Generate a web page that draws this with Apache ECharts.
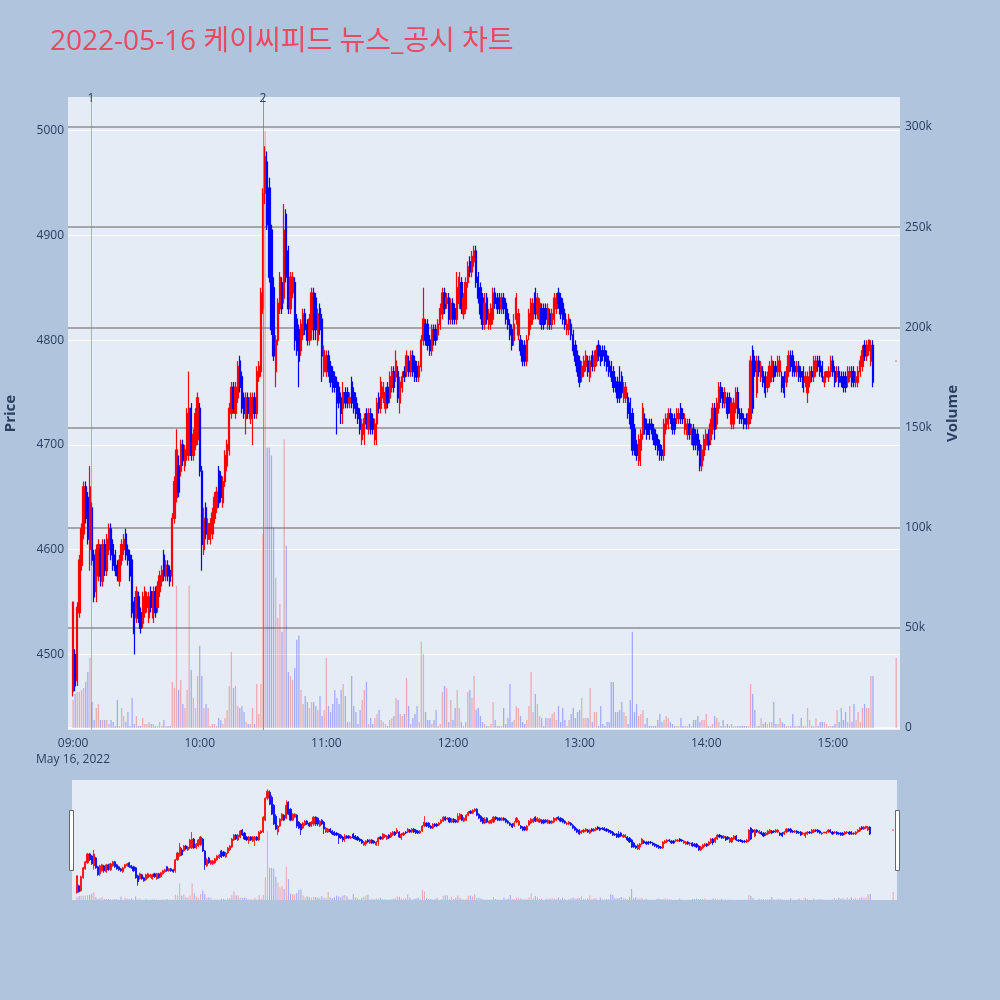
<!DOCTYPE html>
<html><head><meta charset="utf-8">
<script src="https://cdn.jsdelivr.net/npm/echarts@6/dist/echarts.min.js"></script>
<style>html,body{margin:0;padding:0;background:#B0C4DE;}#c{width:1000px;height:1000px;}</style>
</head><body><div id="c"></div>
<script>
// ---- data ----
const chartTitle = '2022-05-16 케이씨피드 뉴스_공시 차트';
const tickMinutes = [0, 60, 120, 180, 240, 300, 360];
const tickLabels = ['09:00', '10:00', '11:00', '12:00', '13:00', '14:00', '15:00'];
const dateLabel = 'May 16, 2022';
const priceTicks = [4500, 4600, 4700, 4800, 4900, 5000];
const volumeTicks = [0, 50, 100, 150, 200, 250, 300]; // thousands
const newsMarks = [{ label: '', minute: 90.15 }, { label: '1', minute: 8.5 }, { label: '2', minute: 90.0 }];
// minutes after 09:00 for each candle: 09:00..15:19 and the 15:30 closing auction
const minutes = [];
for (let m = 0; m < 380; m++) minutes.push(m);
minutes.push(390);
// [open, close, low, high]
const candles = [
[4465,4550,4460,4550],[4500,4470,4465,4505],[4475,4545,4470,4550],[4540,4590,4535,4595],[4585,4620,4580,4625],[4615,4660,4610,4665],[4660,4630,4625,4665],[4650,4610,4605,4655],[4600,4660,4580,4680],[4640,4590,4585,4645],[4595,4555,4550,4600],
[4560,4600,4550,4605],[4575,4605,4570,4610],[4600,4575,4565,4605],[4570,4605,4565,4610],[4605,4580,4575,4610],[4580,4610,4575,4615],[4600,4620,4595,4625],[4620,4595,4590,4625],[4605,4585,4580,4610],[4595,4580,4575,4600],
[4585,4575,4570,4590],[4570,4590,4565,4595],[4590,4605,4585,4610],[4600,4610,4595,4615],[4615,4595,4590,4620],[4600,4590,4585,4605],[4595,4575,4570,4600],[4590,4540,4535,4595],[4550,4520,4500,4555],[4535,4560,4530,4565],
[4555,4535,4530,4560],[4540,4525,4520,4545],[4530,4555,4525,4560],[4540,4560,4535,4565],[4545,4555,4540,4560],[4535,4555,4530,4560],[4560,4545,4540,4565],[4535,4560,4530,4565],[4560,4540,4535,4565],[4545,4565,4540,4570],
[4560,4575,4555,4580],[4570,4580,4565,4585],[4595,4575,4570,4600],[4575,4585,4570,4590],[4585,4575,4570,4590],[4580,4570,4565,4585],[4575,4630,4565,4635],[4630,4665,4625,4670],[4650,4695,4645,4715],[4680,4655,4650,4690],
[4675,4700,4670,4705],[4700,4685,4680,4705],[4680,4695,4675,4700],[4690,4730,4685,4735],[4690,4735,4685,4770],[4735,4690,4685,4740],[4690,4710,4685,4715],[4700,4730,4695,4735],[4705,4745,4700,4750],[4735,4675,4670,4740],
[4675,4605,4580,4680],[4600,4630,4595,4640],[4640,4615,4610,4645],[4610,4625,4605,4630],[4610,4625,4605,4630],[4615,4635,4610,4640],[4630,4650,4625,4655],[4640,4655,4635,4660],[4675,4645,4640,4680],[4670,4650,4645,4675],
[4645,4665,4640,4670],[4665,4690,4660,4695],[4680,4700,4675,4705],[4695,4735,4690,4740],[4730,4755,4725,4760],[4755,4735,4730,4760],[4730,4755,4725,4760],[4745,4775,4740,4780],[4780,4755,4750,4785],[4765,4735,4730,4770],
[4745,4730,4725,4750],[4725,4745,4710,4750],[4745,4730,4725,4750],[4725,4745,4720,4750],[4730,4745,4700,4750],[4745,4730,4725,4750],[4730,4770,4725,4775],[4765,4775,4760,4780],[4770,4845,4765,4850],[4830,4940,4825,4945],
[4940,4975,4930,4985],[4970,4910,4905,4980],[4945,4860,4855,4955],[4905,4810,4805,4910],[4850,4785,4780,4860],[4770,4800,4755,4805],[4800,4835,4795,4840],[4830,4860,4825,4865],[4855,4830,4825,4860],[4840,4905,4835,4930],
[4920,4860,4855,4925],[4885,4830,4825,4890],[4830,4860,4825,4865],[4845,4860,4840,4865],[4855,4800,4790,4860],[4820,4790,4785,4825],[4810,4780,4755,4815],[4790,4815,4785,4820],[4805,4825,4800,4830],[4825,4810,4805,4830],
[4815,4800,4795,4820],[4800,4820,4795,4825],[4810,4845,4800,4850],[4845,4810,4800,4850],[4840,4810,4800,4845],[4800,4825,4795,4830],[4830,4810,4805,4835],[4820,4785,4760,4825],[4770,4790,4765,4795],[4770,4785,4765,4790],
[4785,4770,4765,4790],[4775,4760,4755,4780],[4770,4755,4750,4775],[4765,4755,4750,4770],[4760,4740,4710,4765],[4755,4740,4735,4760],[4745,4730,4720,4750],[4735,4750,4720,4760],[4750,4740,4735,4755],[4750,4740,4735,4755],
[4740,4745,4735,4750],[4760,4740,4735,4765],[4750,4735,4730,4755],[4745,4730,4725,4750],[4735,4725,4720,4740],[4730,4715,4710,4735],[4705,4720,4700,4725],[4710,4725,4700,4730],[4730,4720,4715,4735],[4715,4730,4710,4735],
[4730,4715,4710,4735],[4725,4715,4710,4730],[4705,4720,4700,4725],[4720,4740,4700,4745],[4745,4735,4730,4750],[4735,4760,4730,4765],[4745,4755,4740,4760],[4735,4750,4730,4755],[4755,4740,4735,4760],[4745,4765,4740,4770],
[4755,4770,4750,4775],[4770,4755,4750,4775],[4765,4780,4760,4790],[4770,4745,4740,4775],[4740,4760,4730,4765],[4755,4765,4750,4770],[4770,4765,4760,4775],[4770,4785,4765,4790],[4780,4770,4765,4785],[4770,4785,4765,4790],
[4785,4770,4765,4790],[4780,4765,4760,4785],[4775,4765,4760,4780],[4765,4775,4760,4780],[4775,4800,4770,4805],[4800,4820,4795,4850],[4815,4800,4795,4820],[4815,4795,4790,4820],[4800,4790,4785,4805],[4790,4810,4785,4815],
[4810,4800,4795,4815],[4810,4800,4795,4815],[4805,4815,4800,4820],[4815,4830,4810,4835],[4825,4845,4820,4850],[4845,4830,4825,4850],[4835,4840,4830,4845],[4840,4820,4815,4845],[4820,4835,4815,4840],[4835,4820,4815,4840],
[4830,4820,4815,4835],[4820,4850,4815,4865],[4835,4860,4830,4865],[4855,4830,4825,4860],[4825,4840,4820,4845],[4830,4855,4825,4860],[4855,4870,4850,4875],[4875,4865,4860,4880],[4865,4880,4860,4885],[4875,4885,4870,4890],
[4885,4855,4850,4890],[4860,4840,4835,4865],[4850,4825,4820,4855],[4840,4815,4810,4845],[4815,4835,4810,4845],[4840,4820,4815,4845],[4815,4825,4810,4830],[4815,4830,4810,4835],[4820,4845,4815,4850],
[4845,4835,4830,4850],[4840,4830,4825,4845],[4840,4830,4825,4845],[4830,4840,4825,4845],[4840,4830,4825,4845],[4835,4820,4815,4840],[4825,4815,4810,4830],[4815,4805,4800,4820],[4810,4795,4790,4815],[4800,4815,4795,4825],
[4820,4840,4815,4845],[4805,4825,4800,4830],[4800,4790,4785,4805],[4795,4780,4775,4800],[4795,4780,4775,4800],[4780,4800,4775,4805],[4805,4825,4800,4830],[4815,4835,4810,4840],[4820,4835,4815,4840],[4845,4825,4820,4850],
[4825,4840,4820,4845],[4820,4835,4815,4840],[4830,4815,4810,4835],[4830,4815,4810,4835],[4830,4820,4815,4835],[4815,4830,4810,4835],[4825,4815,4810,4830],[4815,4825,4810,4830],[4820,4840,4815,4845],[4830,4840,4825,4845],
[4845,4835,4830,4850],[4840,4825,4820,4845],[4835,4820,4815,4840],[4825,4815,4810,4830],[4810,4815,4805,4820],[4810,4820,4805,4825],[4815,4805,4800,4820],[4805,4790,4785,4810],[4795,4780,4775,4800],[4785,4770,4765,4790],
[4780,4760,4755,4785],[4765,4775,4760,4780],[4770,4780,4765,4785],[4775,4785,4770,4790],[4780,4770,4765,4785],[4765,4780,4760,4785],[4785,4775,4770,4790],[4775,4785,4770,4790],[4780,4790,4775,4795],[4795,4785,4780,4800],
[4790,4780,4775,4795],[4790,4785,4780,4795],[4790,4780,4775,4795],[4785,4775,4770,4790],[4780,4770,4765,4785],[4775,4765,4760,4780],[4770,4755,4750,4775],[4760,4755,4750,4765],[4760,4745,4740,4765],[4760,4745,4740,4775],
[4765,4750,4745,4770],[4745,4755,4740,4760],[4745,4755,4740,4760],[4745,4730,4725,4750],[4740,4720,4715,4745],[4730,4695,4690,4735],[4715,4695,4690,4720],[4700,4690,4685,4705],[4685,4705,4680,4710],[4695,4710,4680,4715],
[4710,4735,4705,4740],[4725,4715,4710,4730],[4720,4710,4705,4725],[4720,4710,4705,4725],[4720,4715,4710,4725],[4715,4705,4700,4720],[4710,4700,4695,4715],[4705,4695,4690,4710],[4700,4690,4685,4705],[4695,4690,4685,4700],
[4690,4720,4685,4725],[4715,4725,4710,4730],[4720,4730,4715,4735],[4730,4725,4720,4735],[4725,4715,4710,4730],[4725,4715,4710,4730],[4725,4730,4720,4735],[4725,4730,4720,4735],[4735,4725,4720,4740],[4730,4725,4720,4735],
[4715,4725,4710,4730],[4710,4720,4705,4725],[4720,4710,4705,4725],[4710,4715,4700,4720],[4715,4700,4695,4720],[4710,4700,4695,4715],[4710,4695,4690,4715],[4700,4680,4675,4705],[4680,4695,4675,4700],[4690,4705,4685,4710],
[4700,4710,4695,4715],[4710,4700,4695,4715],[4705,4720,4700,4725],[4715,4735,4710,4740],[4735,4715,4705,4740],[4720,4740,4715,4745],[4735,4755,4730,4760],[4755,4745,4740,4760],[4750,4740,4735,4755],[4740,4750,4735,4755],
[4745,4730,4725,4750],[4745,4735,4730,4750],[4720,4740,4715,4745],[4720,4740,4715,4745],[4735,4750,4730,4755],[4750,4730,4725,4755],[4730,4725,4720,4735],[4730,4725,4720,4735],[4725,4720,4715,4730],[4725,4720,4715,4730],
[4720,4730,4715,4735],[4725,4780,4720,4785],[4790,4735,4730,4795],[4780,4770,4765,4785],[4750,4780,4745,4785],[4780,4770,4765,4785],[4765,4775,4760,4780],[4770,4760,4755,4775],[4765,4750,4745,4770],[4755,4765,4750,4770],
[4760,4775,4755,4780],[4765,4780,4760,4785],[4775,4765,4760,4780],[4775,4770,4765,4780],[4770,4780,4765,4785],[4770,4780,4765,4785],[4765,4755,4750,4770],[4765,4750,4745,4770],[4760,4770,4755,4775],[4770,4785,4765,4790],
[4785,4775,4770,4790],[4785,4770,4765,4790],[4775,4770,4765,4780],[4770,4775,4765,4780],[4775,4765,4760,4780],[4770,4765,4760,4775],[4770,4755,4750,4775],[4760,4765,4755,4770],[4750,4765,4740,4770],[4760,4770,4755,4775],
[4770,4765,4760,4775],[4765,4780,4760,4785],[4770,4780,4765,4785],[4780,4775,4770,4785],[4780,4770,4765,4785],[4775,4765,4760,4780],[4760,4765,4755,4770],[4765,4770,4765,4770],[4765,4770,4760,4775],[4770,4780,4765,4785],
[4780,4770,4765,4785],[4770,4760,4755,4775],[4765,4770,4760,4775],[4770,4760,4755,4775],[4765,4760,4755,4770],[4765,4755,4750,4770],[4765,4755,4750,4770],[4760,4770,4755,4775],[4765,4770,4760,4775],[4770,4760,4755,4775],
[4770,4760,4755,4775],[4760,4765,4755,4770],[4760,4770,4755,4775],[4770,4780,4765,4785],[4775,4790,4770,4795],[4795,4785,4780,4800],[4785,4795,4780,4800],[4790,4800,4785,4800],[4780,4795,4775,4800],[4795,4760,4755,4800],
[4780,4780,4780,4780]
];
// traded volume, thousands of shares
const volumes = [
14,17,18,18,19,20,23,28,35,13,4, 10,12,4,4,4,4,2,4,3,1, 14,1,10,6,3,8,1,15,2,6, 1,1,5,2,2,3,2,2,1,1,
3,1,4,1,1,1,23,20,71,19, 24,12,10,19,71,29,15,10,26,41, 26,10,12,10,1,2,2,1,5,4, 2,5,9,21,38,20,21,11,10,11,
8,3,2,2,10,2,22,7,22,97, 298,140,140,136,100,75,55,62,48,144, 91,28,26,24,30,44,46,19,12,16, 13,10,13,13,11,9,16,6,9,35,
11,8,12,19,15,12,19,22,16,3, 3,26,11,8,2,9,14,19,23,2, 5,2,5,7,9,4,3,2,1,4, 5,6,15,14,7,6,7,25,11,2,
5,7,11,3,43,37,8,4,4,2, 4,9,1,2,18,21,20,3,14,4, 10,19,10,3,1,3,18,19,15,26, 9,10,6,3,2,1,1,2,13,
4,1,1,1,10,2,5,22,3,4, 11,10,6,3,2,4,11,28,8,17, 12,6,5,1,5,5,5,7,8,4, 11,3,10,4,1,4,7,10,5,8,
9,15,5,5,5,20,3,8,8,1, 11,2,1,3,3,23,23,8,8,9, 13,8,6,2,14,48,8,12,6,7, 9,2,5,1,1,1,1,4,7,3,
4,6,5,3,2,1,1,1,5,1, 1,1,2,1,4,4,6,3,4,4, 7,1,1,2,6,5,3,1,4,1, 2,1,2,1,1,1,1,1,1,1,
1,22,17,9,1,1,5,2,3,2, 3,3,13,2,2,5,3,2,1,1, 1,7,1,1,1,5,1,1,10,4, 1,1,5,1,3,3,3,2,1,1,
1,2,9,3,10,4,8,3,11,3, 12,4,8,3,10,12,10,10,26,26,
35
];

// ---- chart ----
const FONT = '"Open Sans", "Noto Sans CJK KR", sans-serif';
const TXT = '#2a3f5f';
const UP = '#FF0000', DOWN = '#0000FF';
const isUp = candles.map((c, i) => c[1] > c[0] || (c[1] === c[0] && (i === 0 || c[1] >= candles[i - 1][1])));
const candleData = minutes.map((m, i) => [m, candles[i][0], candles[i][1], candles[i][2], candles[i][3]]);
const volData = minutes.map((m, i) => ({
  value: [m, volumes[i]],
  itemStyle: { color: isUp[i] ? 'rgba(255,0,0,0.28)' : 'rgba(0,0,255,0.28)' }
}));
const X_MIN = -2.4, X_MAX = 391.8;

const chart = echarts.init(document.getElementById('c'), null, { renderer: 'canvas', width: 1000, height: 1000 });
chart.setOption({
  animation: false,
  backgroundColor: '#B0C4DE',
  textStyle: { fontFamily: FONT },
  title: {
    text: chartTitle, left: 50, top: 28, padding: 0,
    textStyle: { color: '#E84A5F', fontSize: 28, fontWeight: 'normal', fontFamily: FONT }
  },
  grid: [
    { left: 68, top: 97, width: 832, height: 633, show: true, backgroundColor: '#E5ECF6', borderWidth: 0, outerBoundsMode: 'none', containLabel: false },
    { left: 72, top: 780, width: 825, height: 120, show: true, backgroundColor: '#E5ECF6', borderWidth: 0, outerBoundsMode: 'none', containLabel: false }
  ],
  xAxis: [
    {
      type: 'value', gridIndex: 0, min: X_MIN, max: X_MAX,
      axisLine: { show: false }, axisTick: { show: false, customValues: tickMinutes }, splitLine: { show: false },
      axisLabel: {
        customValues: tickMinutes, color: TXT, fontSize: 12, margin: 6, lineHeight: 16, fontFamily: FONT,
        formatter: v => {
          const k = tickMinutes.indexOf(v);
          const t = k >= 0 ? tickLabels[k] : '';
          return v === 0 ? t + '\n' + dateLabel : t;
        }
      }
    },
    {
      type: 'value', gridIndex: 1, min: X_MIN, max: X_MAX,
      axisLine: { show: false }, axisTick: { show: false }, axisLabel: { show: false }, splitLine: { show: false }
    }
  ],
  yAxis: [
    {
      type: 'value', gridIndex: 0, position: 'left', min: 4428, max: 5032,
      axisLine: { show: false }, axisTick: { show: false, customValues: priceTicks },
      axisLabel: { customValues: priceTicks, color: TXT, fontSize: 12, margin: 4, fontFamily: FONT, formatter: v => String(v) },
      splitLine: { show: true, lineStyle: { color: '#ffffff', width: 1 } },
      name: 'Price', nameLocation: 'middle', nameRotate: 90, nameGap: 50,
      nameTextStyle: { color: TXT, fontSize: 15, fontWeight: 'bold', fontFamily: FONT }
    },
    {
      type: 'value', gridIndex: 0, position: 'right', min: -1, max: 315,
      axisLine: { show: false }, axisTick: { show: false, customValues: volumeTicks },
      axisLabel: { customValues: volumeTicks, color: TXT, fontSize: 12, margin: 5, fontFamily: FONT,
        formatter: v => v === 0 ? '0' : v + 'k' },
      splitLine: { show: true, lineStyle: { color: ['#ffffff', '#8f8f8f', '#8f8f8f', '#8f8f8f', '#8f8f8f', '#8f8f8f', '#8f8f8f'], width: 1.5 } },
      name: 'Volume', nameLocation: 'middle', nameRotate: 90, nameGap: 45,
      nameTextStyle: { color: TXT, fontSize: 15, fontWeight: 'bold', fontFamily: FONT }
    },
    {
      type: 'value', gridIndex: 1, min: 4428, max: 5032,
      axisLine: { show: false }, axisTick: { show: false }, axisLabel: { show: false }, splitLine: { show: false }
    },
    {
      type: 'value', gridIndex: 1, min: 0, max: 520,
      axisLine: { show: false }, axisTick: { show: false }, axisLabel: { show: false }, splitLine: { show: false }
    }
  ],
  series: [
    {
      type: 'bar', name: 'Volume', xAxisIndex: 0, yAxisIndex: 1, barWidth: 1.3, z: 1,
      data: volData
    },
    {
      type: 'candlestick', name: 'Price', xAxisIndex: 0, yAxisIndex: 0, z: 3,
      encode: { x: 0, y: [1, 2, 3, 4] },
      barWidth: 1.8,
      itemStyle: { color: UP, color0: DOWN, borderColor: UP, borderColor0: DOWN, borderColorDoji: UP, borderWidth: 1.2 },
      data: candleData,
      markLine: {
        silent: true, symbol: ['none', 'none'], animation: false,
        lineStyle: { color: 'rgba(99,110,250,0.5)', width: 1, type: 'solid' },
        label: { show: true, position: 'end', distance: -8, color: TXT, fontSize: 12, fontFamily: FONT },
        data: newsMarks.map(n => ({ xAxis: n.minute, label: { formatter: n.label } }))
      }
    },
    {
      type: 'bar', xAxisIndex: 1, yAxisIndex: 3, barWidth: 1.1, z: 1, silent: true,
      data: volData
    },
    {
      type: 'candlestick', xAxisIndex: 1, yAxisIndex: 2, z: 3, silent: true,
      encode: { x: 0, y: [1, 2, 3, 4] },
      barWidth: 1.6,
      itemStyle: { color: UP, color0: DOWN, borderColor: UP, borderColor0: DOWN, borderColorDoji: UP, borderWidth: 0.8 },
      data: candleData
    }
  ],
  graphic: [
    { type: 'rect', shape: { x: 69.5, y: 810.5, width: 4, height: 60 }, style: { fill: '#ffffff', stroke: '#666', lineWidth: 1 }, z: 10 },
    { type: 'rect', shape: { x: 895.5, y: 810.5, width: 4, height: 60 }, style: { fill: '#ffffff', stroke: '#666', lineWidth: 1 }, z: 10 }
  ]
});
</script>
</body></html>
